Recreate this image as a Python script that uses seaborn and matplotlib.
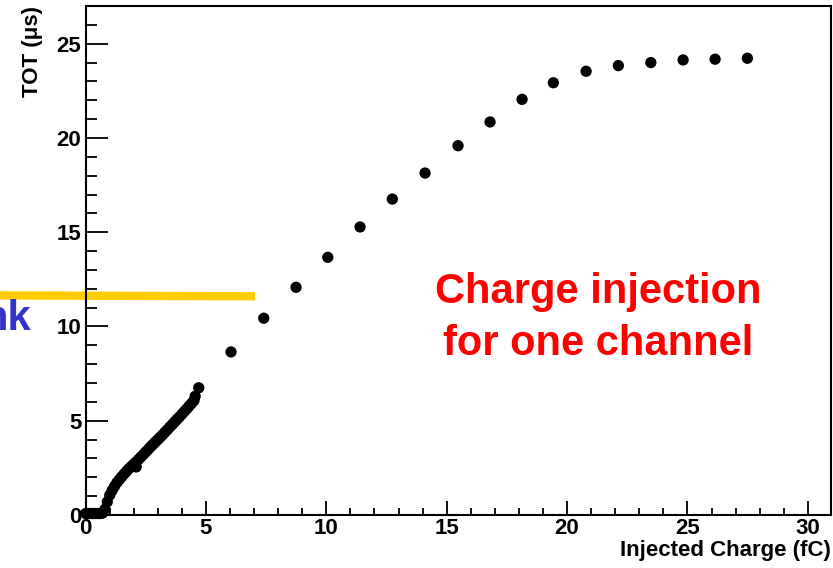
import numpy as np
import pandas as pd
import matplotlib
matplotlib.use("Agg")
import matplotlib.pyplot as plt
import seaborn as sns
from matplotlib.ticker import MultipleLocator

# fine scan (dense region)
fine_charge = [0.0, 0.1, 0.2, 0.3, 0.4, 0.5, 0.6, 0.7, 0.8, 0.9,
               1.0, 1.1, 1.2, 1.3, 1.4, 1.5, 1.6, 1.7, 1.8, 1.9,
               2.0, 2.1, 2.1, 2.2, 2.3, 2.4, 2.5, 2.6, 2.7, 2.8, 2.9,
               3.0, 3.1, 3.2, 3.3, 3.4, 3.5, 3.6, 3.7, 3.8, 3.9,
               4.0, 4.1, 4.2, 4.3, 4.4, 4.5, 4.55, 4.7]
fine_tot = [0.08, 0.08, 0.08, 0.08, 0.08, 0.08, 0.08, 0.1, 0.3, 0.7,
            1.05, 1.3, 1.52, 1.72, 1.88, 2.03, 2.18, 2.32, 2.46, 2.58,
            2.7, 2.82, 2.55, 2.95, 3.08, 3.21, 3.35, 3.48, 3.62, 3.75, 3.88,
            4.0, 4.13, 4.26, 4.4, 4.53, 4.67, 4.8, 4.94, 5.08, 5.21,
            5.35, 5.49, 5.63, 5.78, 5.92, 6.07, 6.3, 6.75]

# coarse scan
coarse_charge = [6.04, 7.40, 8.74, 10.06, 11.40, 12.74, 14.10, 15.47, 16.80,
                 18.13, 19.43, 20.79, 22.13, 23.48, 24.82, 26.15, 27.49]
coarse_tot = [8.65, 10.44, 12.08, 13.67, 15.28, 16.76, 18.14, 19.59, 20.85,
              22.05, 22.93, 23.54, 23.84, 24.0, 24.14, 24.18, 24.23]

df = pd.DataFrame({"charge": fine_charge + coarse_charge,
                   "tot": fine_tot + coarse_tot})

sns.set_style("ticks")
plt.rcParams["font.family"] = ["Liberation Sans", "DejaVu Sans"]
plt.rcParams["font.weight"] = "bold"
plt.rcParams["text.color"] = "black"
plt.rcParams["axes.labelcolor"] = "black"

fig = plt.figure(figsize=(8.33, 5.68), dpi=100)
ax = fig.add_axes([0.1028, 0.0933, 0.8944, 0.8961])

sns.scatterplot(data=df, x="charge", y="tot", color="black", s=66,
                edgecolor="none", ax=ax, clip_on=False, zorder=3)

ax.set_xlim(0, 30.95)
ax.set_ylim(0, 27.0)
ax.xaxis.set_major_locator(MultipleLocator(5))
ax.xaxis.set_minor_locator(MultipleLocator(1))
ax.yaxis.set_major_locator(MultipleLocator(5))
ax.yaxis.set_minor_locator(MultipleLocator(1))

for s in ax.spines.values():
    s.set_visible(True)
    s.set_linewidth(1.5)
    s.set_color("black")

ax.tick_params(axis="both", which="both", direction="in", width=1.3,
               labelsize=16, colors="black", top=False, right=False)
ax.tick_params(axis="y", which="major", length=16, pad=3)
ax.tick_params(axis="y", which="minor", length=8)
ax.tick_params(axis="x", which="major", length=10, pad=2)
ax.tick_params(axis="x", which="minor", length=5)
for lab in ax.get_xticklabels() + ax.get_yticklabels():
    lab.set_fontweight("bold")

ax.set_xlabel("Injected Charge (fC)", fontsize=16, fontweight="bold",
              color="black", loc="right", labelpad=1)
ax.set_ylabel("TOT (μs)", fontsize=16, fontweight="bold",
              color="black", loc="top", labelpad=10)

# yellow bar from the slide
ax.plot([-3.6, 7.04], [11.65, 11.6], color="#FFCC00", lw=6,
        clip_on=False, solid_capstyle="butt", zorder=2)

fig.text(31 / 833, 1 - 330 / 568, "nk", color="#3333CC", fontsize=30,
         fontweight="bold", ha="right", va="baseline")

ax.text(21.3, 11.25, "Charge injection", color="#FF0000",
        fontsize=30, fontweight="bold", ha="center", va="baseline")
ax.text(21.3, 8.49, "for one channel", color="#FF0000",
        fontsize=30, fontweight="bold", ha="center", va="baseline")

fig.savefig("out.png", dpi=100)
